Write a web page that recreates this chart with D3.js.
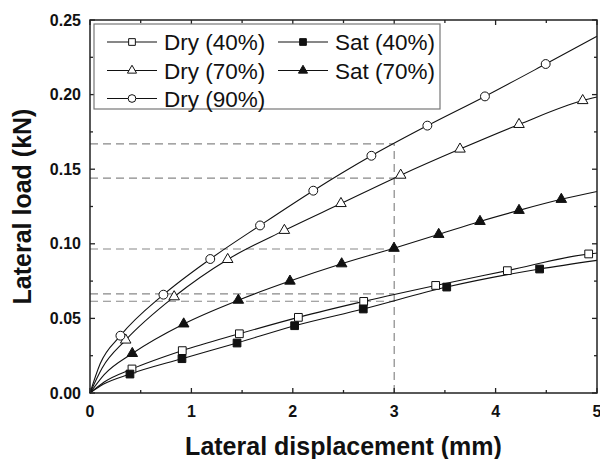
<!DOCTYPE html>
<html>
<head>
<meta charset="utf-8">
<script src="https://cdn.jsdelivr.net/npm/d3@7"></script>
<style>
  html, body { margin: 0; padding: 0; background: #fff; }
  svg { display: block; }
  text { font-family: "Liberation Sans", Arial, Helvetica, sans-serif; fill: #111; }
</style>
</head>
<body>
<svg id="chart" width="600" height="459"></svg>
<script>
// Load–displacement curves, [displacement (mm), load (kN)]
// (the first vertex after the origin and the 5 mm end carry no marker)
const dry40 = [[0,0],[0.14,0.0074],[0.414,0.0161],[0.91,0.0284],[1.473,0.0397],[2.055,0.0507],[2.699,0.0614],[3.409,0.0721],[4.116,0.082],[4.918,0.0932],[5,0.0938]];
const sat40 = [[0,0],[0.13,0.0058],[0.394,0.0127],[0.907,0.023],[1.45,0.0335],[2.018,0.0451],[2.695,0.0563],[3.518,0.071],[4.434,0.0831],[5,0.0889]];
const dry70 = [[0,0],[0.12,0.0168],[0.352,0.0355],[0.83,0.0645],[1.358,0.0895],[1.917,0.109],[2.475,0.127],[3.064,0.146],[3.649,0.1635],[4.231,0.18],[4.859,0.196],[5,0.1984]];
const sat70 = [[0,0],[0.14,0.0123],[0.417,0.0265],[0.924,0.0463],[1.463,0.0622],[1.972,0.075],[2.482,0.0866],[2.998,0.097],[3.439,0.1063],[3.846,0.115],[4.231,0.1224],[4.648,0.1298],[5,0.1351]];
const dry90 = [[0,0],[0.10,0.0196],[0.30,0.0384],[0.724,0.0659],[1.186,0.0898],[1.677,0.1123],[2.202,0.1356],[2.775,0.159],[3.327,0.1792],[3.895,0.1988],[4.494,0.2205],[5,0.2391]];

const seriesNames = ["Dry (40%)", "Sat (40%)", "Dry (70%)", "Sat (70%)", "Dry (90%)"];
const seriesData = [dry40, sat40, dry70, sat70, dry90];
const seriesSymbols = ["square", "square", "triangle", "triangle", "circle"];
const seriesFilled = [false, true, false, true, false];

// Reference readings at 3 mm displacement
const refDisp = 3;
const refLoads = [0.167, 0.144, 0.0965, 0.0664, 0.0615];

const xTicks = [0, 1, 2, 3, 4, 5];
const yTicks = [0, 0.05, 0.10, 0.15, 0.20, 0.25];
const xMinor = [0.5, 1.5, 2.5, 3.5, 4.5];
const yMinor = [0.025, 0.075, 0.125, 0.175, 0.225];

const svg = d3.select("#chart");
const L = 90, R = 597, T = 20, B = 393;

const x = d3.scaleLinear().domain([0, 5]).range([L, R]);
const y = d3.scaleLinear().domain([0, 0.25]).range([B, T]);

// Dashed guide lines
const guides = svg.append("g")
  .attr("stroke", "#888").attr("stroke-width", 1.2).attr("stroke-dasharray", "8,5").attr("fill", "none");
refLoads.forEach(v => {
  guides.append("line").attr("x1", x(0)).attr("x2", x(refDisp)).attr("y1", y(v)).attr("y2", y(v));
});
guides.append("line").attr("x1", x(refDisp)).attr("x2", x(refDisp)).attr("y1", y(0)).attr("y2", y(d3.max(refLoads)));

// Symbol generator
const symType = { square: d3.symbolSquare, triangle: d3.symbolTriangle, circle: d3.symbolCircle };
const symSize = { square: 60, triangle: 48, circle: 62 };
function symbolPath(name) {
  return d3.symbol().type(symType[name]).size(symSize[name])();
}

const line = d3.line().x(d => x(d[0])).y(d => y(d[1])).curve(d3.curveMonotoneX);

seriesData.forEach((data, i) => {
  svg.append("path").datum(data)
    .attr("d", line)
    .attr("fill", "none").attr("stroke", "#111").attr("stroke-width", 1.1);
});
seriesData.forEach((data, i) => {
  const pts = data.slice(2, data.length - 1);
  svg.append("g").selectAll("path").data(pts).join("path")
    .attr("transform", d => `translate(${x(d[0])},${y(d[1])})`)
    .attr("d", symbolPath(seriesSymbols[i]))
    .attr("fill", seriesFilled[i] ? "#111" : "#fff")
    .attr("stroke", "#111").attr("stroke-width", 1);
});

// Frame
svg.append("rect").attr("x", L).attr("y", T).attr("width", R - L).attr("height", B - T)
  .attr("fill", "none").attr("stroke", "#222").attr("stroke-width", 1.5);

// Inward ticks on all four sides
const tk = svg.append("g").attr("stroke", "#222").attr("stroke-width", 1.3);
const major = 5, minor = 3;
xTicks.forEach(v => {
  tk.append("line").attr("x1", x(v)).attr("x2", x(v)).attr("y1", B).attr("y2", B - major);
  tk.append("line").attr("x1", x(v)).attr("x2", x(v)).attr("y1", T).attr("y2", T + major);
});
xMinor.forEach(v => {
  tk.append("line").attr("x1", x(v)).attr("x2", x(v)).attr("y1", B).attr("y2", B - minor);
  tk.append("line").attr("x1", x(v)).attr("x2", x(v)).attr("y1", T).attr("y2", T + minor);
});
yTicks.forEach(v => {
  tk.append("line").attr("x1", L).attr("x2", L + major).attr("y1", y(v)).attr("y2", y(v));
  tk.append("line").attr("x1", R).attr("x2", R - major).attr("y1", y(v)).attr("y2", y(v));
});
yMinor.forEach(v => {
  tk.append("line").attr("x1", L).attr("x2", L + minor).attr("y1", y(v)).attr("y2", y(v));
  tk.append("line").attr("x1", R).attr("x2", R - minor).attr("y1", y(v)).attr("y2", y(v));
});

// Tick labels
svg.append("g").selectAll("text").data(xTicks).join("text")
  .attr("x", d => x(d)).attr("y", B + 24)
  .attr("text-anchor", "middle").attr("font-size", 16).attr("font-weight", "bold")
  .text(d => d3.format("d")(d));
svg.append("g").selectAll("text").data(yTicks).join("text")
  .attr("x", L - 9).attr("y", d => y(d)).attr("dy", "0.35em")
  .attr("text-anchor", "end").attr("font-size", 16).attr("font-weight", "bold")
  .text(d => d3.format(".2f")(d));

// Axis titles
svg.append("text").attr("x", (L + R) / 2).attr("y", 455)
  .attr("text-anchor", "middle").attr("font-size", 25).attr("font-weight", "bold")
  .text("Lateral displacement (mm)");
svg.append("text").attr("transform", `translate(31,${(T + B) / 2}) rotate(-90)`)
  .attr("text-anchor", "middle").attr("font-size", 25).attr("font-weight", "bold")
  .text("Lateral load (kN)");

// Legend
const legend = svg.append("g");
legend.append("rect").attr("x", 94).attr("y", 24).attr("width", 346).attr("height", 85)
  .attr("fill", "#fff").attr("stroke", "#777").attr("stroke-width", 1.2);
const legendPos = [[0, 0], [1, 0], [0, 1], [1, 1], [0, 2]];
const colX = [107, 278], rowY = [42, 70.5, 98.5];
seriesNames.forEach((name, i) => {
  const cx = colX[legendPos[i][0]], cy = rowY[legendPos[i][1]];
  const g = legend.append("g");
  g.append("line").attr("x1", cx).attr("x2", cx + 50).attr("y1", cy).attr("y2", cy)
    .attr("stroke", "#111").attr("stroke-width", 1.1);
  g.append("path").attr("transform", `translate(${cx + 25},${cy})`)
    .attr("d", d3.symbol().type(symType[seriesSymbols[i]]).size(symSize[seriesSymbols[i]] * 0.75)())
    .attr("fill", seriesFilled[i] ? "#111" : "#fff").attr("stroke", "#111").attr("stroke-width", 1);
  g.append("text").attr("x", cx + 57).attr("y", cy).attr("dy", "0.36em")
    .attr("font-size", 22.5).text(name);
});
</script>
</body>
</html>
